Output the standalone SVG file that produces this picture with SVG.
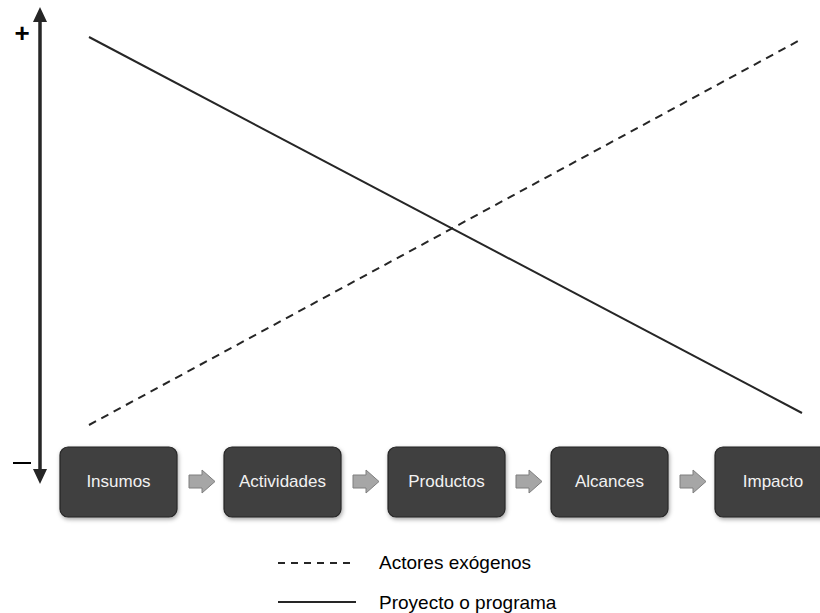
<svg xmlns="http://www.w3.org/2000/svg" width="820" height="613" viewBox="0 0 820 613">
<defs>
<style>
.box{fill:#404040;stroke:#262626;stroke-width:1.2}
.lbl{font-family:"Liberation Sans",Arial,sans-serif;font-size:17px;fill:#f2f2f2;text-anchor:middle}
.leg{font-family:"Liberation Sans",Arial,sans-serif;font-size:19px;fill:#000}
.step{fill:#a6a6a6;stroke:#7f7f7f;stroke-width:1}
.ln{stroke:#262626;stroke-width:2;fill:none}
</style>
<filter id="sh" x="-20%" y="-20%" width="140%" height="150%">
<feDropShadow dx="1" dy="2" stdDeviation="2" flood-color="#000" flood-opacity="0.35"/>
</filter>
<path id="stepArrow" d="M0,5 H13 V0 L26,11.5 L13,23 V18 H0 Z"/>
</defs>
<rect width="820" height="613" fill="#fff"/>
<g id="axis">
<line x1="40" y1="20" x2="40" y2="472" stroke="#262626" stroke-width="3.5"/>
<path d="M33,22 L40,7 L47,22 Z" fill="#262626"/>
<path d="M33,469 L40,484 L47,469 Z" fill="#262626"/>
<text x="22" y="42" font-family="Liberation Sans,Arial,sans-serif" font-size="26" font-weight="bold" text-anchor="middle" fill="#000">+</text>
<line x1="13" y1="463" x2="31" y2="463" stroke="#000" stroke-width="2"/>
</g>
<g id="connectors">
<line class="ln" x1="89" y1="37" x2="802" y2="413"/>
<line class="ln" x1="89" y1="425" x2="800" y2="40" stroke-dasharray="8,6"/>
<use href="#stepArrow" class="step" x="189" y="470"/>
<use href="#stepArrow" class="step" x="353" y="470"/>
<use href="#stepArrow" class="step" x="516" y="470"/>
<use href="#stepArrow" class="step" x="680" y="470"/>
</g>
<g id="insumos"><rect class="box" x="60" y="447" width="117" height="70" rx="8" filter="url(#sh)"/><text class="lbl" x="118.5" y="487">Insumos</text></g>
<g id="actividades"><rect class="box" x="224" y="447" width="117" height="70" rx="8" filter="url(#sh)"/><text class="lbl" x="282.5" y="487">Actividades</text></g>
<g id="productos"><rect class="box" x="388" y="447" width="117" height="70" rx="8" filter="url(#sh)"/><text class="lbl" x="446.5" y="487">Productos</text></g>
<g id="alcances"><rect class="box" x="551" y="447" width="117" height="70" rx="8" filter="url(#sh)"/><text class="lbl" x="609.5" y="487">Alcances</text></g>
<g id="impacto"><rect class="box" x="715" y="447" width="117" height="70" rx="8" filter="url(#sh)"/><text class="lbl" x="773" y="487">Impacto</text></g>
<g id="legend">
<line x1="278" y1="563" x2="356" y2="563" stroke="#262626" stroke-width="2" stroke-dasharray="7,6"/>
<text class="leg" x="379" y="569">Actores exógenos</text>
<line x1="278" y1="602" x2="356" y2="602" stroke="#262626" stroke-width="2"/>
<text class="leg" x="379" y="609">Proyecto o programa</text>
</g>
</svg>
